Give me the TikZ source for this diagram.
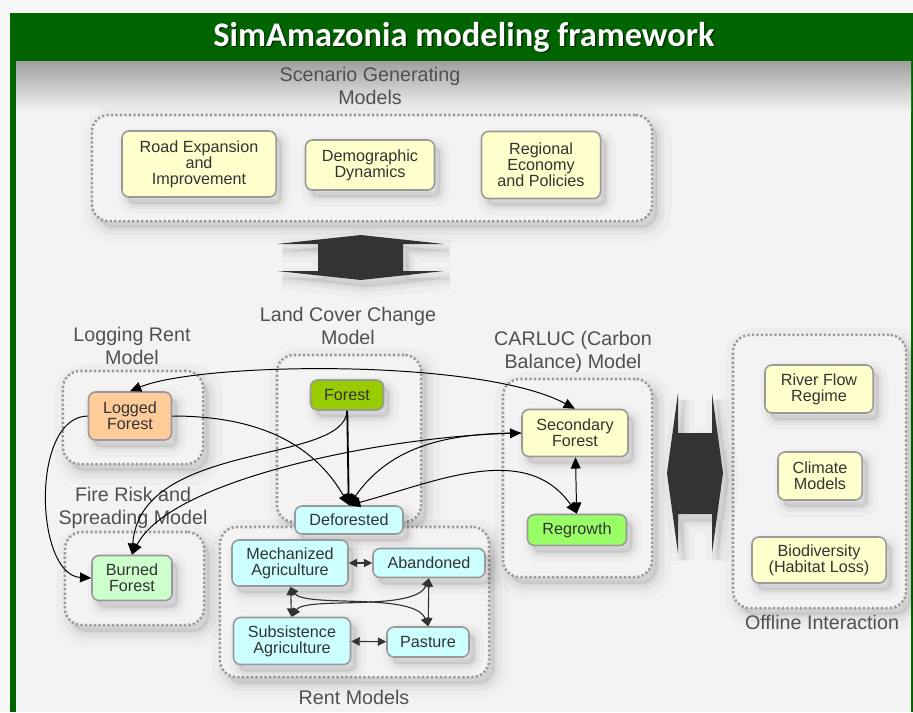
\documentclass[tikz,border=0pt]{standalone}
\usepackage{fontspec}
\setmainfont{Liberation Sans}
\newfontfamily\titlefont{Carlito}
\usepackage{tikz}
\usetikzlibrary{positioning,shapes,arrows.meta,calc}
\usepackage{xcolor}

\definecolor{frameGreen}{RGB}{0,100,0}
\definecolor{pageGray}{HTML}{F7F7F7}
\definecolor{innerGray}{HTML}{F3F3F3}
\definecolor{boxBorder}{HTML}{999999}
\definecolor{boxText}{HTML}{333333}
\definecolor{labelGray}{HTML}{505050}
\definecolor{dotGray}{HTML}{999999}
\definecolor{arrowDark}{HTML}{333333}
\definecolor{boxYellow}{HTML}{FFFFCC}
\definecolor{forestGreen}{HTML}{99CC00}
\definecolor{deforCyan}{HTML}{CCFFFF}
\definecolor{loggedPeach}{HTML}{FFCC99}
\definecolor{burnedGreen}{HTML}{CCFFCC}
\definecolor{regrowGreen}{HTML}{99FF66}

\tikzset{
  softshade/.style={
    preaction={draw=black, solid, draw opacity=0.025, line width=#1*2, transform canvas={xshift=4pt,yshift=-5pt}},
    preaction={draw=black, solid, draw opacity=0.035, line width=#1, transform canvas={xshift=4pt,yshift=-5pt}},
    preaction={draw=black, solid, draw opacity=0.04, line width=#1*0.4, transform canvas={xshift=4pt,yshift=-5pt}},
    preaction={fill=black, fill opacity=0.08, transform canvas={xshift=4pt,yshift=-5pt}}}
}

\begin{document}
\begin{tikzpicture}[x=0.025cm, y=-0.025cm, >=Stealth,
  box/.style={draw=boxBorder, line width=1.1pt, rounded corners=5pt, inner sep=0pt,
    align=center, text=boxText, font=\fontsize{11.5}{11.5}\selectfont, softshade=7pt},
  group/.style={draw=dotGray, line width=1.8pt, dash pattern=on 1.6pt off 1.6pt,
    rounded corners=12pt, inner sep=0pt, fill=innerGray, softshade=10pt},
  grouplabel/.style={text=labelGray, align=center, font=\fontsize{14}{16.3}\selectfont},
  bigarrow/.style={fill=arrowDark, softshade=8pt},
  link/.style={-{Triangle[length=8pt,width=7pt]}, line width=0.7pt, black},
  twolink/.style={{Triangle[length=8pt,width=7pt]}-{Triangle[length=8pt,width=7pt]}, line width=0.7pt, black},
  rentlink/.style={{Triangle[length=6pt,width=6pt]}-{Triangle[length=6pt,width=6pt]}, line width=0.8pt, arrowDark}
]
\useasboundingbox (0,0) rectangle (913,712);

% Define frame positions
\def\headtop{13}
\def\headbottom{61}
\def\frameleft{10}

% Page, frame and header
\fill[pageGray] (0,0) rectangle (913,712);
\fill[frameGreen] (\frameleft,\headtop) rectangle (913,712);
\fill[innerGray] (16,\headbottom) rectangle (911,712);
\shade[top color=gray!75, bottom color=innerGray] (16,\headbottom) rectangle (911,112);
\node[font=\titlefont\bfseries\fontsize{24.5}{26}\selectfont, text=black, opacity=0.55] (titleshade) at (465.5,38.5) {SimAmazonia modeling framework};
\node[font=\titlefont\bfseries\fontsize{24.5}{26}\selectfont, text=white] (title) at (464,37) {SimAmazonia modeling framework};

% Dotted model groups
\node[group, minimum width=14cm, minimum height=2.65cm] (scenGrp) at (372,168) {};
\node[group, minimum width=3.5cm, minimum height=2.325cm] (logGrp) at (133,417.5) {};
\node[group, minimum width=3.6cm, minimum height=4.175cm] (lccGrp) at (349,438.5) {};
\node[group, minimum width=3.475cm, minimum height=2.325cm] (fireGrp) at (134.5,578.5) {};
\node[group, minimum width=6.725cm, minimum height=3.75cm] (rentGrp) at (354.5,602) {};
\node[group, minimum width=3.725cm, minimum height=4.95cm] (carlucGrp) at (577.5,478) {};
\node[group, minimum width=4.325cm, minimum height=6.825cm] (offGrp) at (819.5,471.5) {};

% Group labels
\node[grouplabel] (scenLbl) at (370,86) {Scenario Generating\\Models};
\node[grouplabel] (logLbl) at (132,346) {Logging Rent\\Model};
\node[grouplabel] (lccLbl) at (348,326) {Land Cover Change\\Model};
\node[grouplabel] (fireLbl) at (133,508) {Fire Risk and\\Spreading Model};
\node[grouplabel] (carlucLbl) at (573,352) {CARLUC (Carbon\\Balance) Model};
\node[grouplabel] (rentLbl) at (354,697) {Rent Models};
\node[grouplabel] (offLbl) at (822,622) {Offline Interaction};

% Big double arrows
\fill[bigarrow] (361,235) -- (444,244) -- (403,244) -- (403,271) -- (444,271) -- (361,280)
  -- (277,271) -- (318,271) -- (318,244) -- (277,244) -- cycle;
\fill[bigarrow] (667,473) -- (678,393) -- (678,433) -- (712,433) -- (712,393) -- (723,473)
  -- (712,553) -- (712,514) -- (678,514) -- (678,553) -- cycle;

% Scenario generating models
\node[box, fill=boxYellow, minimum width=3.85cm, minimum height=1.65cm] (road) at (199,164) {Road Expansion\\and\\Improvement};
\node[box, fill=boxYellow, minimum width=3.225cm, minimum height=1.25cm] (demo) at (370,165) {Demographic\\Dynamics};
\node[box, fill=boxYellow, minimum width=2.975cm, minimum height=1.675cm] (econ) at (541,165) {Regional\\Economy\\and Policies};

% Land cover, logging and fire
\node[box, fill=forestGreen, minimum width=1.825cm, minimum height=0.75cm] (forest) at (347,395) {Forest};
\node[box, fill=deforCyan, minimum width=2.7cm, minimum height=0.7cm] (defor) at (349,520) {Deforested};
\node[box, fill=loggedPeach, minimum width=2.075cm, minimum height=1.2cm] (logged) at (130,416) {Logged\\Forest};
\node[box, fill=burnedGreen, minimum width=2cm, minimum height=1.125cm] (burned) at (132,578) {Burned\\Forest};

% Rent models
\node[box, fill=deforCyan, minimum width=2.9cm, minimum height=1.15cm] (mech) at (290,563) {Mechanized\\Agriculture};
\node[box, fill=deforCyan, minimum width=2.8cm, minimum height=0.725cm] (aband) at (429,563) {Abandoned};
\node[box, fill=deforCyan, minimum width=2.925cm, minimum height=1.175cm] (subs) at (292,641) {Subsistence\\Agriculture};
\node[box, fill=deforCyan, minimum width=2.05cm, minimum height=0.75cm] (pasture) at (428,642) {Pasture};

% CARLUC
\node[box, fill=boxYellow, minimum width=2.65cm, minimum height=1.175cm] (second) at (575,433) {Secondary\\Forest};
\node[box, fill=regrowGreen, minimum width=2.475cm, minimum height=0.775cm] (regrowth) at (577,530) {Regrowth};

% Offline interaction
\node[box, fill=boxYellow, minimum width=2.7cm, minimum height=1.2cm] (river) at (819,389) {River Flow\\Regime};
\node[box, fill=boxYellow, minimum width=2.1cm, minimum height=1.2cm] (climate) at (820,476) {Climate\\Models};
\node[box, fill=boxYellow, minimum width=3.35cm, minimum height=1.15cm] (biodiv) at (819,560) {Biodiversity\\(Habitat Loss)};

% Land cover transitions
\draw[link, line width=1.3pt] (forest) -- (defor);
\draw[link] (logged.east) to[out=0,in=120] (defor.north);
\draw[link] (second.west) to[out=180,in=55] (defor.north);
\draw[twolink] (defor.north) to[out=15,in=125] (regrowth.north);
\draw[twolink] (second) -- (regrowth);
\draw[twolink] (logged.north) .. controls (200,362) and (480,358) .. (second.north);
\draw[link] (logged.west) .. controls (30,417) and (35,575) .. (burned.west);
\draw[link] (forest.south) .. controls (345,465) and (140,440) .. (burned.north);
\draw[twolink] (burned.north) .. controls (170,480) and (380,437) .. (second.west);

% Rent model transitions
\foreach \a/\b in {mech/aband, subs/pasture, mech/subs, aband/pasture}
  \draw[rentlink] (\a) -- (\b);
\draw[rentlink] (mech.south) .. controls (305,608) and (415,592) .. (pasture.north);
\draw[rentlink] (subs.north) .. controls (305,596) and (415,612) .. (aband.south);

\end{tikzpicture}
\end{document}
